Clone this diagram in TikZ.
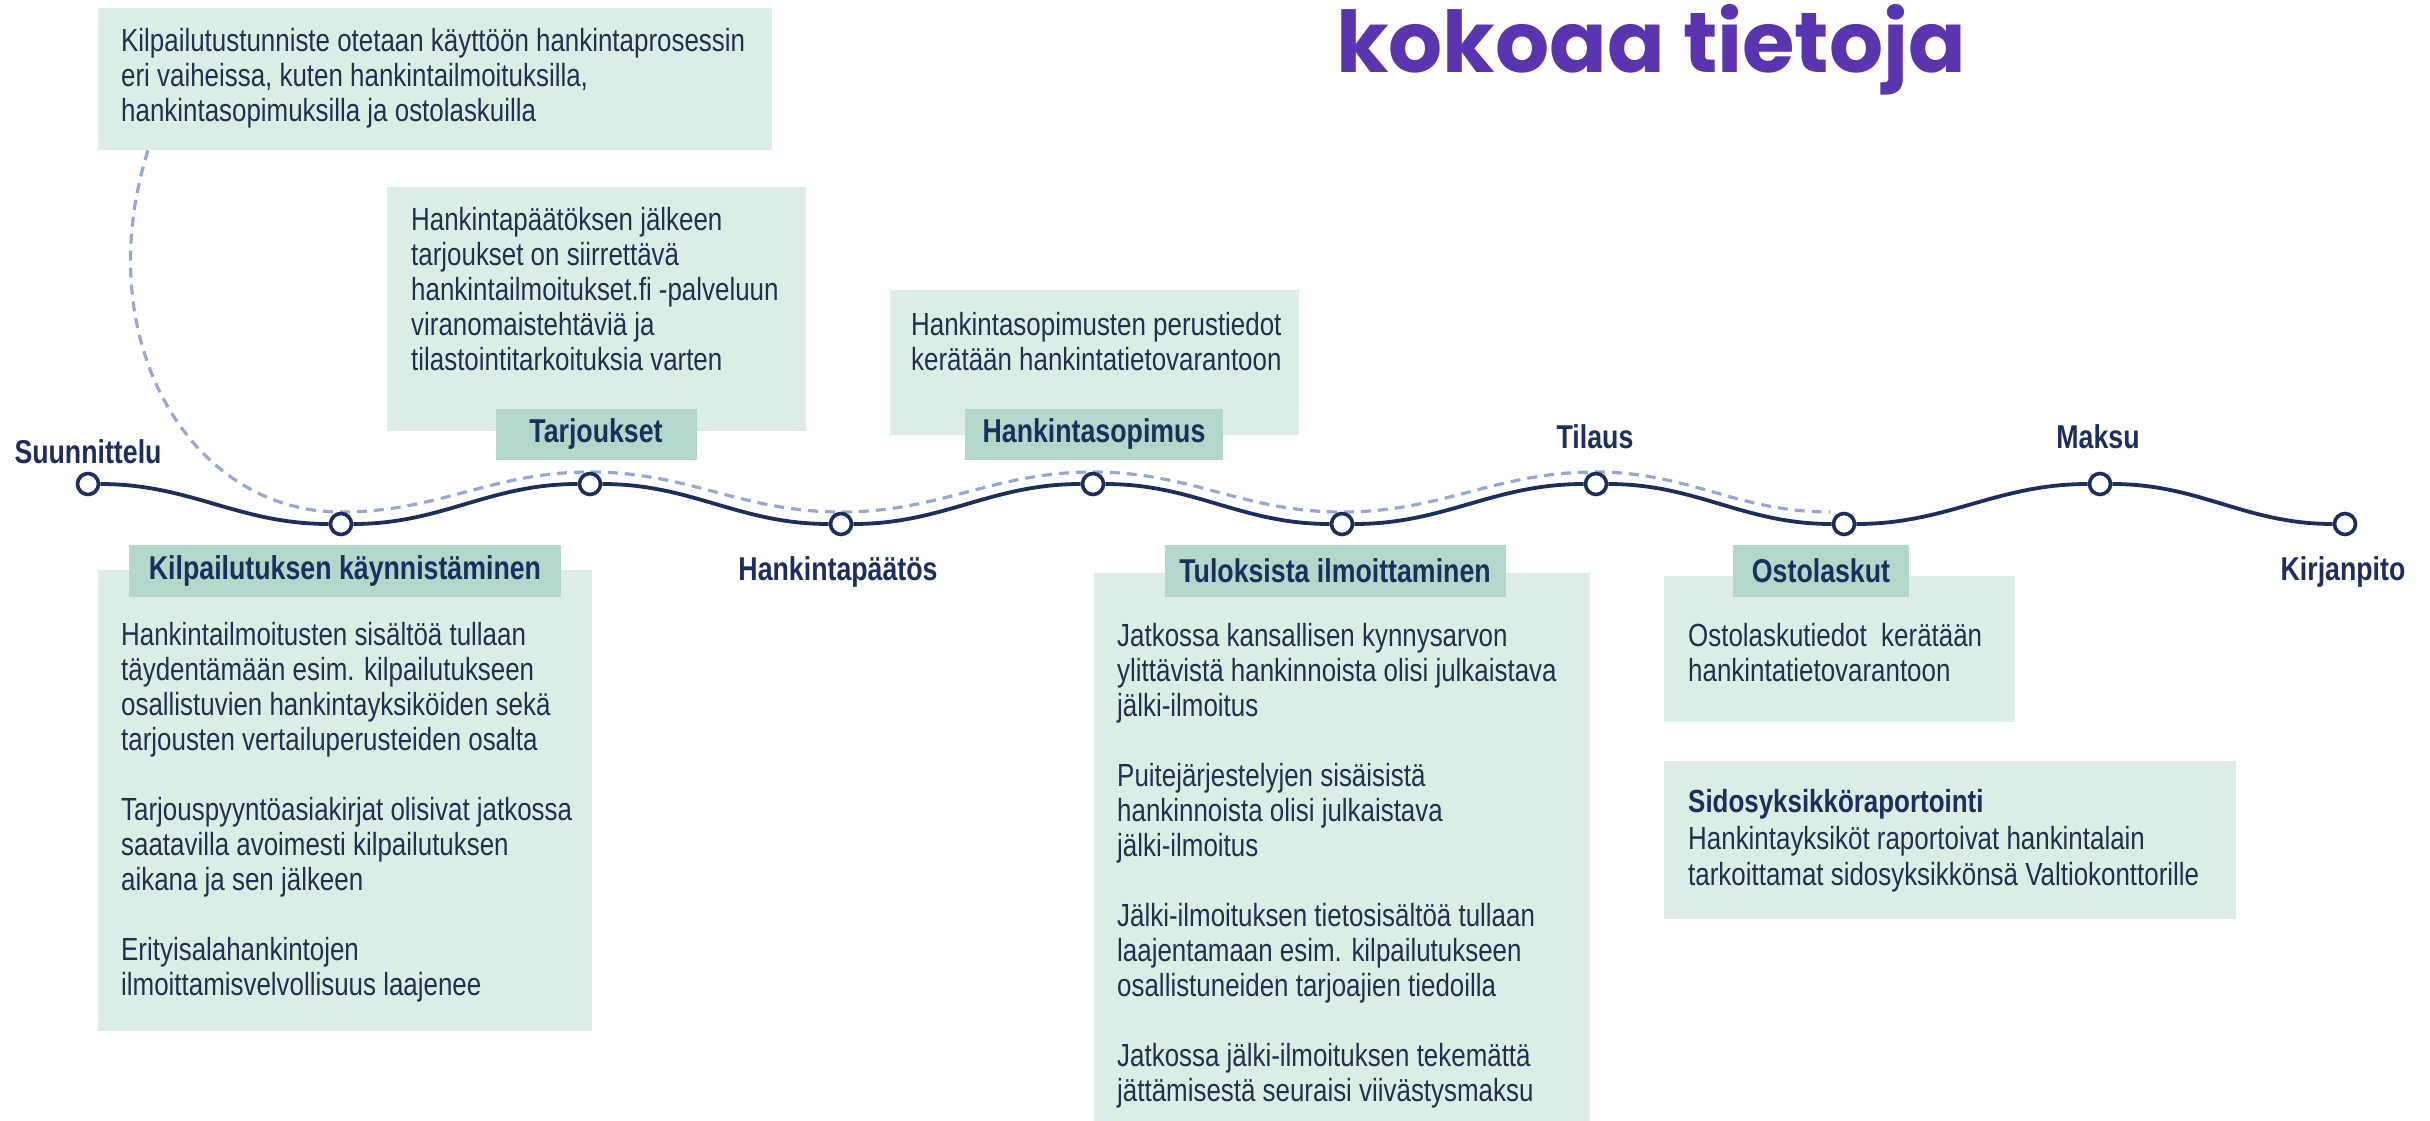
\documentclass[tikz,border=0pt]{standalone}
\usepackage{fontspec}
\setmainfont{Liberation Sans}[FakeStretch=0.81]
\newfontfamily\titlefont{Poppins}
\usetikzlibrary{positioning}

\definecolor{navy}{HTML}{1B2E5E}
\definecolor{ink}{HTML}{22304F}
\definecolor{mint}{HTML}{DCEDE6}
\definecolor{sage}{HTML}{B3D8CA}
\definecolor{dashblue}{HTML}{95A8D2}
\definecolor{titleviolet}{HTML}{5B35AF}

\tikzset{
	panel/.style={fill=mint, inner sep=0, anchor=north west},
	tag/.style={fill=sage, text=navy, font=\fontsize{33}{38}\selectfont\bfseries, inner sep=0},
	body/.style={text=ink, font=\fontsize{32}{35}\selectfont, align=left, inner sep=0, anchor=north west},
	stage/.style={text=navy, font=\fontsize{33}{38}\selectfont\bfseries, inner sep=0},
	dot/.style={circle, draw=navy, fill=white, line width=3.6pt, minimum size=21pt, inner sep=0},
	wave/.style={draw=navy, line width=3.8pt},
	trail/.style={draw=dashblue, line width=3.2pt, dash pattern=on 10pt off 7pt},
}

\begin{document}
\begin{tikzpicture}[x=1pt, y=-1pt]
	\useasboundingbox (0,0) rectangle (2430,1121);

	%PANELS
	\node[panel, minimum width=674, minimum height=142] (topbox) at (98,8) {};
	\node[panel, minimum width=419, minimum height=244] (tarjbox) at (387,187) {};
	\node[panel, minimum width=409, minimum height=145] (sopbox) at (890,290) {};
	\node[panel, minimum width=494, minimum height=461] (kilpbox) at (98,570) {};
	\node[panel, minimum width=496, minimum height=548] (tulosbox) at (1094,573) {};
	\node[panel, minimum width=351, minimum height=146] (ostobox) at (1664,576) {};
	\node[panel, minimum width=572, minimum height=158] (sidosbox) at (1664,761) {};

	%TEXTS
	\node[body] (toptext) at (121,28) {Kilpailutustunniste otetaan käyttöön hankintaprosessin\\
		eri vaiheissa, kuten hankintailmoituksilla,\\
		hankintasopimuksilla ja ostolaskuilla};
	\node[body] (tarjtext) at (411,207) {Hankintapäätöksen jälkeen\\
		tarjoukset on siirrettävä\\
		hankintailmoitukset.fi -palveluun\\
		viranomaistehtäviä ja\\
		tilastointitarkoituksia varten};
	\node[body] (soptext) at (911,312) {Hankintasopimusten perustiedot\\
		kerätään hankintatietovarantoon};
	\node[body] (kilptext) at (121,622) {Hankintailmoitusten sisältöä tullaan\\
		täydentämään esim. kilpailutukseen\\
		osallistuvien hankintayksiköiden sekä\\
		tarjousten vertailuperusteiden osalta\\[35pt]
		Tarjouspyyntöasiakirjat olisivat jatkossa\\
		saatavilla avoimesti kilpailutuksen\\
		aikana ja sen jälkeen\\[35pt]
		Erityisalahankintojen\\
		ilmoittamisvelvollisuus laajenee};
	\node[body] (tulostext) at (1117,623) {Jatkossa kansallisen kynnysarvon\\
		ylittävistä hankinnoista olisi julkaistava\\
		jälki-ilmoitus\\[35pt]
		Puitejärjestelyjen sisäisistä\\
		hankinnoista olisi julkaistava\\
		jälki-ilmoitus\\[35pt]
		Jälki-ilmoituksen tietosisältöä tullaan\\
		laajentamaan esim. kilpailutukseen\\
		osallistuneiden tarjoajien tiedoilla\\[35pt]
		Jatkossa jälki-ilmoituksen tekemättä\\
		jättämisestä seuraisi viivästysmaksu};
	\node[body] (ostotext) at (1688,623) {Ostolaskutiedot\ \ kerätään\\
		hankintatietovarantoon};
	\node[body] (sidostext) at (1688,789) {\textcolor{navy}{\bfseries Sidosyksikköraportointi}\\[2pt]
		Hankintayksiköt raportoivat hankintalain\\[1pt]
		tarkoittamat sidosyksikkönsä Valtiokonttorille};

	%TIMELINE
	\foreach \n/\x/\y in {1/88/484, 2/341/524, 3/590/484, 4/841/524, 5/1093/484,
		6/1342/524, 7/1596/484, 8/1844/524, 9/2100/484, 10/2345/524}{
		\coordinate (p\n) at (\x,\y);
	}
	\draw[trail] ([xshift=50pt]topbox.south west) .. controls +(-60,190) and (190,512) .. ([yshift=12pt]p2)
		to[out=0,in=180] ([yshift=12pt]p3) to[out=0,in=180] ([yshift=12pt]p4)
		to[out=0,in=180] ([yshift=12pt]p5) to[out=0,in=180] ([yshift=12pt]p6)
		to[out=0,in=180] ([yshift=12pt]p7) to[out=0,in=180] ([shift={(-14pt,12pt)}]p8);
	\foreach \n in {1,...,10}{
		\node[dot] (s\n) at (p\n) {};
	}
	\draw[wave] (s1) to[out=0,in=180] (s2) to[out=0,in=180] (s3) to[out=0,in=180] (s4)
		to[out=0,in=180] (s5) to[out=0,in=180] (s6) to[out=0,in=180] (s7)
		to[out=0,in=180] (s8) to[out=0,in=180] (s9) to[out=0,in=180] (s10);

	%STAGES
	\node[stage] (suun) at (88,452) {Suunnittelu};
	\node[stage] (paatos) at (838,572) {Hankintapäätös};
	\node[stage] (tilaus) at (1595,437) {Tilaus};
	\node[stage] (maksu) at (2098,437) {Maksu};
	\node[stage] (kirja) at (2343,572) {Kirjanpito};

	%TAGS
	\node[tag, minimum width=201, minimum height=51] (tarj) at (596,434) {Tarjoukset};
	\node[tag, minimum width=258, minimum height=51] (sopimus) at (1094,434) {Hankintasopimus};
	\node[tag, minimum width=432, minimum height=52] (kilp) at (345,571) {Kilpailutuksen käynnistäminen};
	\node[tag, minimum width=341, minimum height=52] (tulos) at (1335,571) {Tuloksista ilmoittaminen};
	\node[tag, minimum width=176, minimum height=52] (osto) at (1821,571) {Ostolaskut};

	%TITLE
	\node[font=\titlefont\bfseries\fontsize{85}{90}\selectfont, text=titleviolet, anchor=base west, inner sep=0] (title) at (1336,73) {kokoaa tietoja};
\end{tikzpicture}
\end{document}
